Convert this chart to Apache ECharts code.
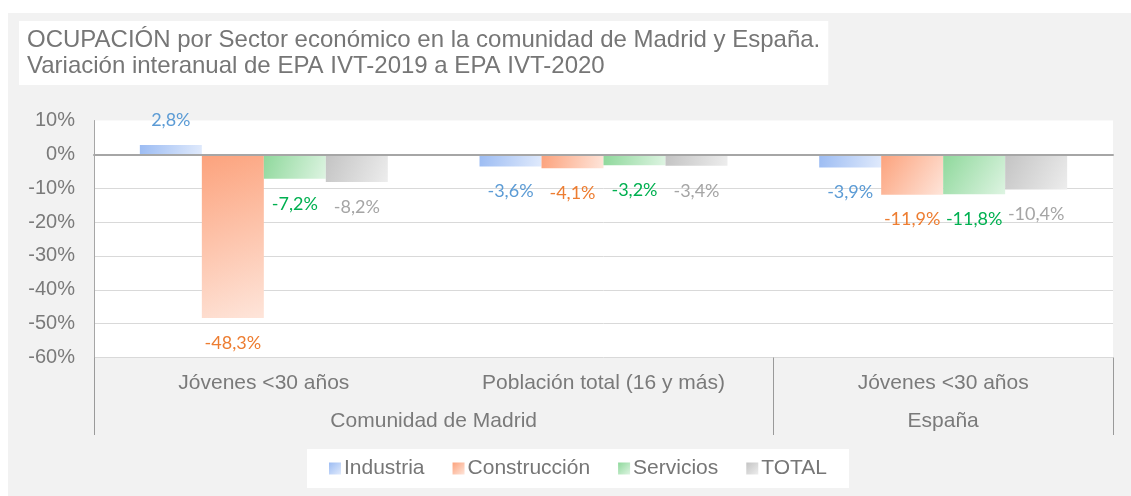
<!DOCTYPE html>
<html>
<head>
<meta charset="utf-8">
<script src="https://cdn.jsdelivr.net/npm/echarts@6/dist/echarts.min.js"></script>
<style>
  html, body { margin: 0; padding: 0; background: #ffffff; width: 1131px; height: 496px; overflow: hidden; }
  #chart { position: absolute; left: 8px; top: 13px; width: 1123px; height: 483px; }
</style>
</head>
<body>
<div id="chart"></div>
<script>
// ---- data ----
const titleLines = ['OCUPACIÓN por Sector económico en la comunidad de Madrid y España.', 'Variación interanual de EPA IVT-2019 a EPA IVT-2020'];
const categories = ['Jóvenes <30 años', 'Población total (16 y más)', 'Jóvenes <30 años'];
const groups = ['Comunidad de Madrid', 'España'];
const groupSpans = [2, 1];
const seriesNames = ['Industria', 'Construcción', 'Servicios', 'TOTAL'];
const industria = [2.8, -3.6, -3.9];
const construccion = [-48.3, -4.1, -11.9];
const servicios = [-7.2, -3.2, -11.8];
const total = [-8.2, -3.4, -10.4];
const yMin = -60, yMax = 10, yStep = 10;

// ---- styles ----
const gradients = [
  ['#9cbcf3', '#e0eafc'],
  ['#fca27c', '#fee5da'],
  ['#8ed89b', '#def4e2'],
  ['#c3c3c3', '#ededed']
];
const labelColors = ['#5b9bd5', '#ed7d31', '#00b050', '#a5a5a5'];
const axisText = '#7a7a7a';

// group axis slots
const nSlots = 2 * groupSpans.reduce((a, b) => a + b, 0) + 1;
const groupSlots = new Array(nSlots).fill('');
const boundaries = [];
let start = 0;
groups.forEach((g, i) => {
  boundaries.push(2 * start);
  groupSlots[2 * start + groupSpans[i]] = g;
  start += groupSpans[i];
});
boundaries.push(2 * start);

const fmt = v => v.toFixed(1).replace('.', ',') + '%';

const values = [industria, construccion, servicios, total];
const series = values.map((vals, i) => ({
  name: seriesNames[i],
  type: 'bar',
  barGap: '0%',
  barCategoryGap: '27%',
  itemStyle: {
    color: new echarts.graphic.LinearGradient(0, 0, 1, 1, [
      { offset: 0, color: gradients[i][0] },
      { offset: 1, color: gradients[i][1] }
    ])
  },
  label: {
    show: true,
    distance: 16,
    color: labelColors[i],
    fontFamily: 'Lato',
    fontSize: 18,
    formatter: p => fmt(p.value)
  },
  data: vals.map(v => ({ value: v, label: { position: v >= 0 ? 'top' : 'bottom' } }))
}));

const chart = echarts.init(document.getElementById('chart'));
chart.setOption({
  backgroundColor: '#f2f2f2',
  animation: false,
  title: {
    text: titleLines.join('\n'),
    left: 11,
    top: 8,
    backgroundColor: '#ffffff',
    padding: [6, 8, 6, 8],
    textStyle: {
      fontFamily: 'Liberation Sans',
      fontWeight: 'normal',
      fontSize: 24,
      lineHeight: 26,
      color: '#767676'
    }
  },
  legend: {
    data: seriesNames,
    left: 299,
    top: 436,
    backgroundColor: '#ffffff',
    padding: [9, 22, 9, 22],
    itemWidth: 12,
    itemHeight: 12,
    itemGap: 28,
    icon: 'rect',
    textStyle: { fontFamily: 'Liberation Sans', fontSize: 21, color: '#767676', padding: [0, 0, 0, -2] }
  },
  grid: {
    left: 86, top: 107.5, right: 18, bottom: 138.5,
    show: true, backgroundColor: '#ffffff', borderWidth: 0,
    containLabel: false
  },
  xAxis: [
    {
      type: 'category',
      data: categories,
      z: 5,
      axisLine: { show: true, onZero: true, lineStyle: { color: '#a6a6a6', width: 2 } },
      axisTick: { show: false },
      axisLabel: { show: false },
      splitLine: { show: false }
    },
    {
      type: 'category',
      data: categories,
      position: 'bottom',
      axisLine: { show: false, onZero: false },
      axisTick: { show: false },
      axisLabel: { show: true, interval: 0, margin: 15, fontFamily: 'Liberation Sans', fontSize: 21, color: axisText },
      splitLine: { show: false }
    },
    {
      type: 'category',
      data: groupSlots,
      boundaryGap: false,
      position: 'bottom',
      axisLine: { show: false, onZero: false },
      axisTick: {
        show: true,
        length: 77.5,
        interval: (idx) => boundaries.indexOf(idx) >= 0,
        lineStyle: { color: '#9a9a9a', width: 1 }
      },
      axisLabel: { show: true, interval: 0, margin: 53, fontFamily: 'Liberation Sans', fontSize: 21, color: axisText },
      splitLine: { show: false }
    }
  ],
  yAxis: {
    type: 'value',
    min: yMin,
    max: yMax,
    interval: yStep,
    axisLine: { show: true, lineStyle: { color: '#a6a6a6', width: 1 } },
    axisTick: { show: false },
    axisLabel: {
      margin: 19,
      fontFamily: 'Liberation Sans',
      fontSize: 20,
      color: axisText,
      formatter: '{value}%'
    },
    splitLine: { show: true, showMaxLine: false, lineStyle: { color: '#d9d9d9', width: 1 } }
  },
  series: series
});
</script>
</body>
</html>
